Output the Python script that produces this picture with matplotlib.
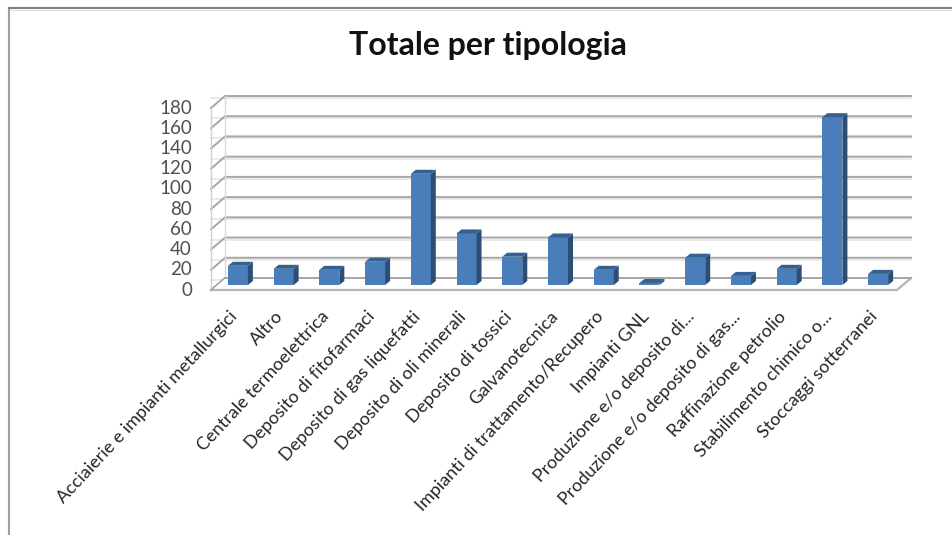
import matplotlib
matplotlib.use("Agg")
import matplotlib.pyplot as plt
from matplotlib.patches import Polygon

categorie = ["Acciaierie e impianti metallurgici", "Altro", "Centrale termoelettrica",
             "Deposito di fitofarmaci", "Deposito di gas liquefatti", "Deposito di oli minerali",
             "Deposito di tossici", "Galvanotecnica", "Impianti di trattamento/Recupero",
             "Impianti GNL", "Produzione e/o deposito di...", "Produzione e/o deposito di gas...",
             "Raffinazione petrolio", "Stabilimento chimico o...", "Stoccaggi sotterranei"]
valori = [19, 16, 15, 23, 110, 51, 28, 47, 15, 2, 27, 9, 16, 166, 11]
tacche = list(range(0, 181, 20))

W, H = 953, 535
plt.rcParams['font.family'] = ['Lato', 'DejaVu Sans']

fig = plt.figure(figsize=(W / 100, H / 100), dpi=100)
# asse anteriore del grafico "3D"
left, right, top, bottom = 211, 897, 108, 290
ax = fig.add_axes([left / W, 1 - bottom / H, (right - left) / W, (bottom - top) / H])
ax.set_xlim(-0.5, 14.5)
ax.set_ylim(0, 180)
ax.axis("off")

px_x = 15 / (right - left)
px_y = 180 / (bottom - top)
depth_x, depth_y = 14 * px_x, 12 * px_y

# griglia sulla parete di fondo e tacche laterali
for t in tacche:
    ax.plot([-0.5, -0.5 + depth_x, 14.5 + depth_x], [t, t + depth_y, t + depth_y],
            color="#a6a6a6", lw=1.4, clip_on=False, zorder=1)
    ax.plot([-0.5, 14.5 + depth_x], [t + depth_y - 2, t + depth_y - 2],
            color="#e6e6e6", lw=1.2, clip_on=False, zorder=0)
    ax.text(-0.5 - 19 * px_x, t, str(t), ha="right", va="center", fontsize=13.5,
            color="#505050", clip_on=False)
# pavimento e spigoli
ax.plot([-0.5, -0.5], [0, 180], color="#d0d0d0", lw=1, clip_on=False, zorder=1)
ax.plot([-0.5 + depth_x, -0.5 + depth_x], [depth_y, 180 + depth_y], color="#d9d9d9", lw=1, clip_on=False, zorder=1)
ax.add_patch(Polygon([(-0.5, 0), (14.5, 0), (14.5 + depth_x, depth_y), (-0.5 + depth_x, depth_y)],
                     closed=True, fc="white", ec="none", clip_on=False, zorder=1.5))
ax.plot([-0.5, 14.5, 14.5 + depth_x], [0, 0, depth_y], color="#b5b5b5", lw=1.6, clip_on=False, zorder=2)
ax.plot([-0.5 + depth_x, 14.5 + depth_x], [depth_y, depth_y], color="#a6a6a6", lw=1.4, clip_on=False, zorder=2)
ax.plot([-0.5, -0.5 + depth_x], [0, depth_y], color="#a6a6a6", lw=1, clip_on=False, zorder=2)

# barre: fronte, lato e cima
base = 5 * px_y
bar_w = 20 * px_x
off = 4 * px_x
ox, oy = 5 * px_x, 4 * px_y
for i, v in enumerate(valori):
    xc = i + off
    ax.bar(xc, v, width=bar_w, bottom=base, color="#4a7ebb", zorder=3, clip_on=False)
    x0, x1 = xc - bar_w / 2, xc + bar_w / 2
    y1 = base + v
    ax.add_patch(Polygon([(x1, base), (x1 + ox, base + oy), (x1 + ox, y1 + oy), (x1, y1)],
                         closed=True, fc="#2c4d75", ec="none", zorder=3, clip_on=False))
    ax.add_patch(Polygon([(x0, y1), (x1, y1), (x1 + ox, y1 + oy), (x0 + ox, y1 + oy)],
                         closed=True, fc="#35608f", ec="none", zorder=3, clip_on=False))
    ax.annotate(categorie[i], xy=(i, 0), xytext=(1, -24), textcoords="offset pixels",
                rotation=47, rotation_mode="anchor", ha="right", va="center",
                fontsize=13, color="#262626", annotation_clip=False)

fig.text(488 / W, 1 - 46 / H, "Totale per tipologia", ha="center", va="center",
         fontsize=23, color="#111111", fontweight="bold")

# bordo del riquadro
fig.add_artist(plt.Line2D([9.5 / W, 9.5 / W], [0, 1 - 8 / H], color="#a0a0a0", lw=1.5))
fig.add_artist(plt.Line2D([9 / W, 1], [1 - 8 / H, 1 - 8 / H], color="#808080", lw=1.5))
fig.add_artist(plt.Line2D([11 / W, 1], [1 - 9.8 / H, 1 - 9.8 / H], color="#dddddd", lw=0.8))

fig.savefig("out.png", dpi=100, facecolor="white")
